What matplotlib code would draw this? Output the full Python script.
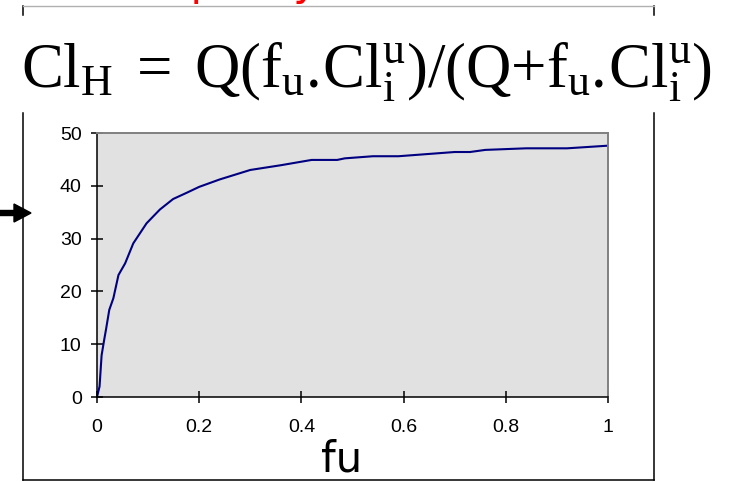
import matplotlib
matplotlib.use("Agg")
import matplotlib.pyplot as plt
from matplotlib.lines import Line2D
from matplotlib.patches import FancyArrow
from matplotlib.transforms import IdentityTransform

# ---- data ----
fu = [0, 0.005, 0.009, 0.014, 0.018, 0.024, 0.032, 0.042, 0.055, 0.071,
      0.097, 0.123, 0.149, 0.176, 0.2, 0.24, 0.3, 0.36, 0.42, 0.47,
      0.485, 0.54, 0.59, 0.70, 0.73, 0.76, 0.84, 0.92, 1.0]
clh = [0, 2.0, 7.9, 10.8, 13.0, 16.5, 18.7, 23.1, 25.3, 29.1,
       32.9, 35.5, 37.5, 38.7, 39.8, 41.2, 43.0, 43.9, 44.9, 44.9,
       45.2, 45.6, 45.6, 46.4, 46.4, 46.8, 47.1, 47.1, 47.6]
x_ticks = [0, 0.2, 0.4, 0.6, 0.8, 1.0]
x_tick_labels = ["0", "0.2", "0.4", "0.6", "0.8", "1"]
y_ticks = [0, 10, 20, 30, 40, 50]
y_tick_labels = ["0", "10", "20", "30", "40", "50"]
formula = r"$\mathregular{Cl_H\,{=}\,Q(f_u.\!Cl_i^u)/(Q{+}f_u.\!Cl_i^u)}$"
x_label = "fu"
top_text = "Capacity"

W, H = 729, 482
fig = plt.figure(figsize=(W / 100, H / 100), dpi=100)
fig.patch.set_facecolor("white")

def fx(px):
    return px / W

def fy(py):
    return 1 - py / H

# axes
ax = fig.add_axes([fx(97), fy(397), fx(608) - fx(97), fy(133) - fy(397)])
ax.set_facecolor("#e1e1e1")
ax.plot(fu, clh, color="#000080", lw=1.5)
ax.set_xlim(0, 1)
ax.set_ylim(0, 50)
ax.set_xticks(x_ticks)
ax.set_xticklabels(x_tick_labels)
ax.set_yticks(y_ticks)
ax.set_yticklabels(y_tick_labels)
for lab in ax.get_xticklabels() + ax.get_yticklabels():
    lab.set_fontfamily("Liberation Sans")
    lab.set_fontsize(14)
ax.tick_params(axis="x", direction="inout", length=8, width=1.1, pad=12, colors="black")
ax.tick_params(axis="y", direction="inout", length=8, width=1.1, pad=7, colors="black")
for s in ("left", "bottom"):
    ax.spines[s].set_color("black")
    ax.spines[s].set_linewidth(1.1)
for s in ("top", "right"):
    ax.spines[s].set_color("#808080")
    ax.spines[s].set_linewidth(1.4)

# box lines around the chart
box_kw = dict(transform=fig.transFigure, color="black", lw=1.1)
fig.add_artist(Line2D([fx(23), fx(23)], [fy(113), fy(480)], **box_kw))
fig.add_artist(Line2D([fx(654), fx(654)], [fy(113), fy(480)], **box_kw))
fig.add_artist(Line2D([fx(23), fx(654)], [fy(480), fy(480)], **box_kw))
fig.add_artist(Line2D([fx(23), fx(23)], [fy(6), fy(15)], **box_kw))
fig.add_artist(Line2D([fx(654), fx(654)], [fy(6), fy(15)], **box_kw))
fig.add_artist(Line2D([fx(23), fx(654)], [fy(6), fy(6)], transform=fig.transFigure,
                      color="#b0b0b0", lw=1.0))

# red title, mostly cut off at the top (only descenders show)
fig.text(fx(137), fy(-5), top_text, color="red", fontsize=30,
         fontfamily="DejaVu Sans", ha="left", va="baseline")

# formula
t = fig.text(fx(21), fy(88), formula, fontfamily="Liberation Serif",
             fontsize=52, ha="left", va="baseline", color="black")
fig.canvas.draw()
bb = t.get_window_extent()
t.set_fontsize(52 * (712 - 21) / bb.width)

# x label
fig.text(fx(342), fy(472), x_label, fontfamily="DejaVu Sans", fontsize=30,
         ha="center", va="baseline", color="black")

# arrow on the left
fig.add_artist(FancyArrow(0, H - 213, 31, 0, width=5, head_width=18,
                          head_length=17, length_includes_head=True,
                          color="black", transform=IdentityTransform()))

fig.savefig("out.png", dpi=100)
